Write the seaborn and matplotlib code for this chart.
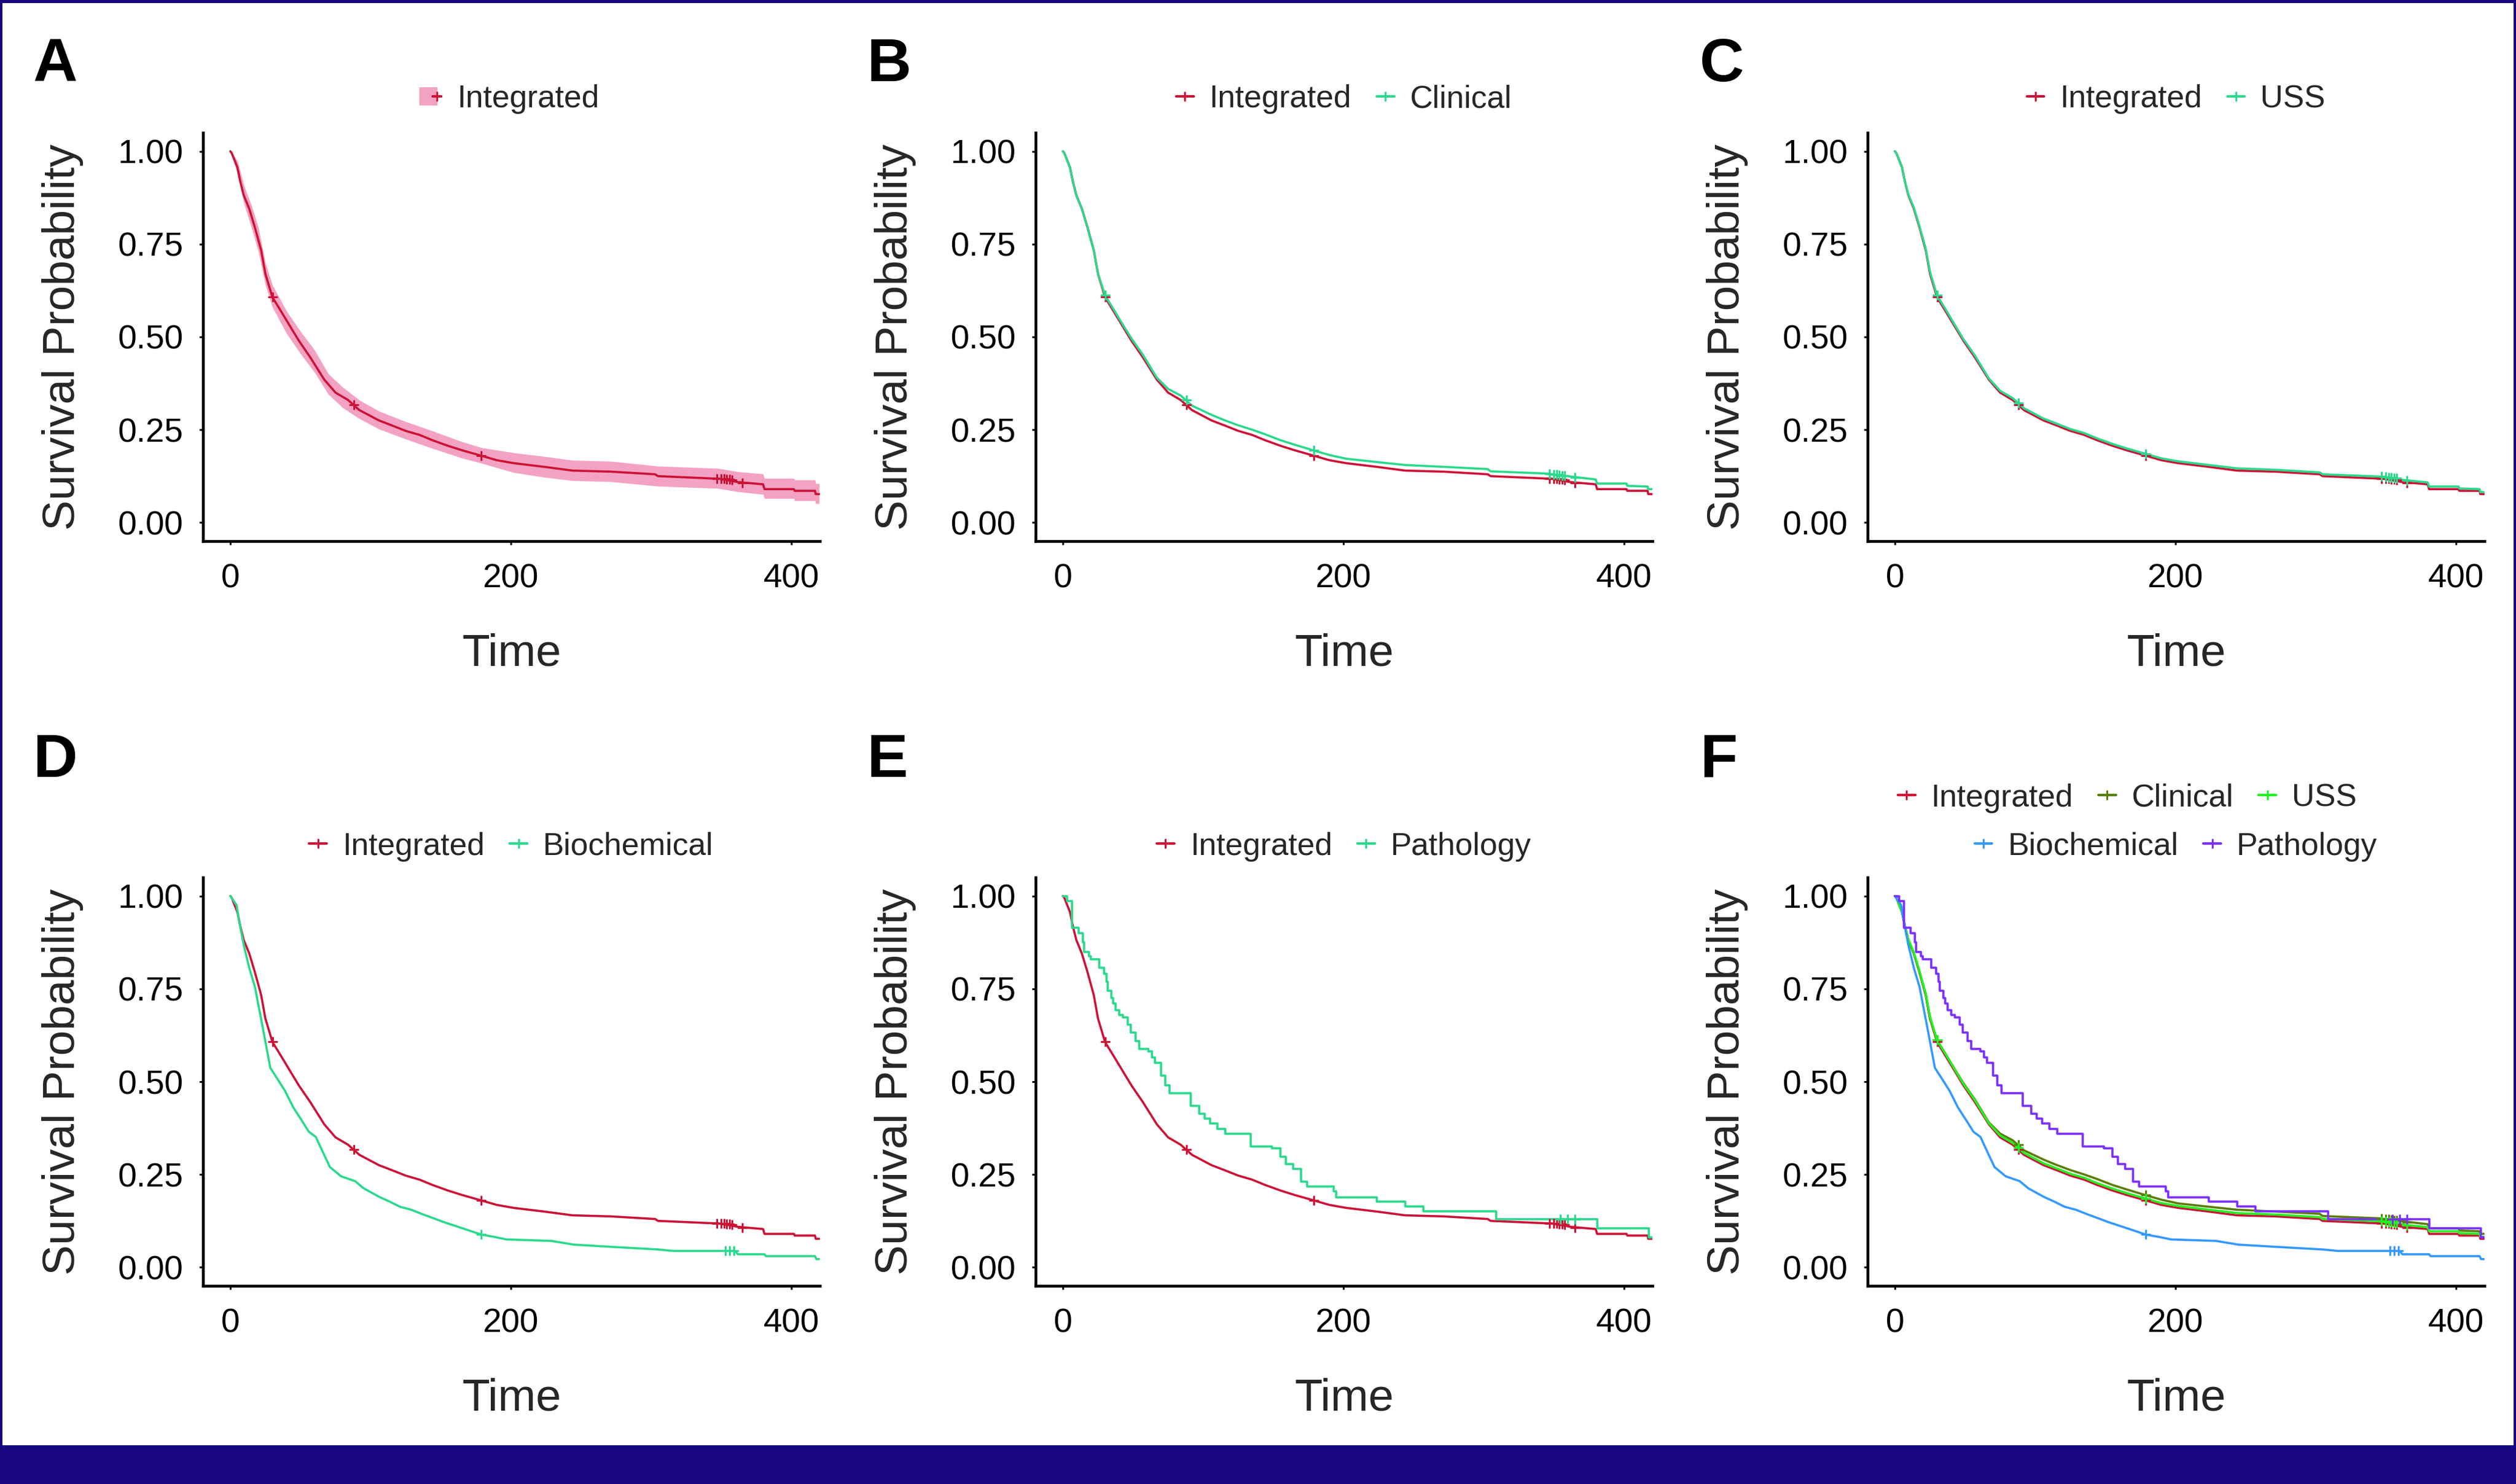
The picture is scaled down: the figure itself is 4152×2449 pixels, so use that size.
import pandas as pd
import matplotlib.pyplot as plt
import seaborn as sns
from matplotlib.lines import Line2D
from matplotlib.patches import Rectangle
from matplotlib.legend_handler import HandlerTuple

# survival curves (time, survival probability)
integrated_t = [0, 1, 5, 7, 9.5, 13.5, 17.5, 22, 25, 30, 36, 44, 49, 57, 67, 75, 84, 92, 106, 115, 125, 135,
                144, 155, 165, 179, 190, 202, 224, 244, 272, 303, 305, 345, 348, 362, 380, 381, 402, 402.5,
                417, 417.5, 420]
integrated_s = [1.0, 0.995, 0.957, 0.92, 0.882, 0.845, 0.795, 0.733, 0.67, 0.607, 0.57, 0.52, 0.489, 0.445,
                0.385, 0.35, 0.33, 0.303, 0.275, 0.262, 0.247, 0.236, 0.222, 0.207, 0.195, 0.18, 0.168, 0.16,
                0.15, 0.14, 0.137, 0.13, 0.125, 0.1185, 0.1185, 0.109, 0.103, 0.09, 0.09, 0.0855, 0.0855,
                0.0767, 0.0767]

# 95% CI band of the integrated model (panel A)
ci_t = [0, 5, 10, 15, 20, 25, 30, 40, 50, 60, 70, 80, 92, 106, 125, 144, 165, 179, 202, 224, 244, 272, 305,
        348, 362, 380, 381, 402, 402.5, 417, 417.5, 420]
ci_lower = [1.0, 0.94, 0.855, 0.795, 0.73, 0.64, 0.58, 0.51, 0.455, 0.405, 0.345, 0.31, 0.28, 0.252, 0.225,
            0.2, 0.174, 0.16, 0.135, 0.122, 0.113, 0.11, 0.098, 0.092, 0.083, 0.076, 0.065, 0.065, 0.059,
            0.059, 0.051, 0.051]
ci_upper = [1.0, 0.975, 0.905, 0.855, 0.795, 0.70, 0.64, 0.57, 0.515, 0.465, 0.40, 0.365, 0.33, 0.3, 0.272,
            0.247, 0.218, 0.202, 0.188, 0.178, 0.168, 0.165, 0.152, 0.146, 0.137, 0.131, 0.119, 0.119, 0.115,
            0.115, 0.105, 0.105]

clinical_t = [0, 1, 5, 7, 9.5, 13.5, 17.5, 22, 25, 30, 36, 44, 49, 57, 67, 75, 84, 92, 106, 115, 125, 135,
              144, 155, 165, 179, 190, 202, 224, 244, 272, 303, 305, 345, 362, 380, 381, 402, 402.5, 417,
              417.5, 420]
clinical_s = [1.0, 0.995, 0.957, 0.92, 0.882, 0.845, 0.795, 0.733, 0.67, 0.612, 0.575, 0.525, 0.495, 0.452,
              0.39, 0.36, 0.342, 0.315, 0.29, 0.276, 0.262, 0.25, 0.238, 0.222, 0.21, 0.194, 0.182, 0.172,
              0.163, 0.155, 0.15, 0.144, 0.138, 0.132, 0.124, 0.116, 0.105, 0.105, 0.099, 0.097, 0.09, 0.09]

uss_t = [0, 1, 5, 7, 9.5, 13.5, 17.5, 22, 25, 30, 36, 44, 49, 57, 67, 75, 84, 92, 106, 115, 125, 135,
         144, 155, 165, 179, 190, 202, 224, 244, 272, 303, 305, 345, 362, 380, 381, 402, 402.5, 417, 417.5, 420]
uss_s = [1.0, 0.995, 0.957, 0.92, 0.884, 0.848, 0.798, 0.737, 0.675, 0.612, 0.575, 0.524, 0.493, 0.45,
         0.388, 0.355, 0.335, 0.308, 0.28, 0.267, 0.252, 0.241, 0.227, 0.212, 0.2, 0.185, 0.173, 0.165,
         0.155, 0.146, 0.142, 0.135, 0.13, 0.124, 0.115, 0.108, 0.097, 0.097, 0.092, 0.09, 0.082, 0.082]

biochemical_t = [0, 4.5, 6, 9.5, 13.5, 17.5, 21, 24.5, 28.5, 34, 39, 45, 51, 56, 61, 66, 71, 79, 89, 95,
                 106, 113, 121, 129, 137, 145, 152, 160, 168, 179, 188, 197, 229, 245, 272, 305, 316, 360,
                 362, 381, 382, 417, 418, 420]
biochemical_s = [1.0, 0.975, 0.938, 0.869, 0.806, 0.756, 0.687, 0.618, 0.537, 0.505, 0.475, 0.43, 0.395,
                 0.365, 0.351, 0.31, 0.27, 0.245, 0.232, 0.213, 0.19, 0.178, 0.163, 0.155, 0.143, 0.132,
                 0.122, 0.112, 0.102, 0.088, 0.082, 0.075, 0.071, 0.061, 0.055, 0.048, 0.044, 0.044, 0.035,
                 0.035, 0.03, 0.03, 0.022, 0.022]

# pathology model has few events -> plain KM steps
pathology_t = [0, 3, 6.3, 11, 14.4, 15, 18.7, 20, 26, 29.4, 31, 32, 34.4, 36, 37.7, 40, 42.7, 46, 48.4,
               51.7, 54.3, 60.8, 63.3, 65.8, 70, 73, 76, 91, 97, 101, 105, 110, 116, 134, 149, 155, 159,
               164, 170, 174, 193, 195, 224, 244, 257, 309, 381, 418, 420]
pathology_s = [1.0, 0.986, 0.914, 0.9, 0.876, 0.85, 0.838, 0.83, 0.807, 0.79, 0.77, 0.744, 0.725, 0.71,
               0.693, 0.68, 0.673, 0.654, 0.632, 0.61, 0.588, 0.582, 0.566, 0.55, 0.516, 0.49, 0.469, 0.434,
               0.413, 0.4, 0.387, 0.373, 0.36, 0.326, 0.32, 0.298, 0.278, 0.265, 0.231, 0.218, 0.204, 0.188,
               0.177, 0.164, 0.15, 0.13, 0.105, 0.08, 0.08]

# censoring marks
integrated_cens_t = [30, 88, 179, 347, 350, 352, 354, 356, 358, 365]
integrated_cens_s = [0.607, 0.318, 0.18, 0.1185, 0.1185, 0.118, 0.117, 0.116, 0.115, 0.107]
clinical_cens_t = [30, 88, 179, 347, 350, 352, 354, 356, 358, 365]
clinical_cens_s = [0.612, 0.33, 0.194, 0.131, 0.13, 0.129, 0.128, 0.127, 0.126, 0.121]
uss_cens_t = [30, 88, 179, 347, 350, 352, 354, 356, 358, 365]
uss_cens_s = [0.612, 0.322, 0.185, 0.124, 0.123, 0.122, 0.121, 0.12, 0.119, 0.113]
biochemical_cens_t = [179, 353, 356, 359]
biochemical_cens_s = [0.088, 0.044, 0.044, 0.044]
pathology_cens_t = [355, 360, 365]
pathology_cens_s = [0.13, 0.13, 0.13]

models = {
    'Integrated': (integrated_t, integrated_s, integrated_cens_t, integrated_cens_s, None),
    'Clinical': (clinical_t, clinical_s, clinical_cens_t, clinical_cens_s, None),
    'USS': (uss_t, uss_s, uss_cens_t, uss_cens_s, None),
    'Biochemical': (biochemical_t, biochemical_s, biochemical_cens_t, biochemical_cens_s, None),
    'Pathology': (pathology_t, pathology_s, pathology_cens_t, pathology_cens_s, 'steps-post'),
}

RED = '#CC1236'
MINT = '#2BD98C'
PINK = '#F4A2C3'
NAVY = '#17067F'
f_colors = {'Integrated': RED, 'Clinical': '#5A7D00', 'USS': '#22F022',
            'Biochemical': '#3399FF', 'Pathology': '#7B2FFF'}

panels = [
    ('A', ['Integrated'], {'Integrated': RED}),
    ('B', ['Integrated', 'Clinical'], {'Integrated': RED, 'Clinical': MINT}),
    ('C', ['Integrated', 'USS'], {'Integrated': RED, 'USS': MINT}),
    ('D', ['Integrated', 'Biochemical'], {'Integrated': RED, 'Biochemical': MINT}),
    ('E', ['Integrated', 'Pathology'], {'Integrated': RED, 'Pathology': MINT}),
    ('F', ['Integrated', 'Clinical', 'USS', 'Biochemical', 'Pathology'], f_colors),
]

sns.set_theme(style='white')
plt.rcParams['font.family'] = ['Liberation Sans', 'DejaVu Sans']

W, H = 4152, 2449
fig = plt.figure(figsize=(W / 100, H / 100), dpi=100)
fig.patch.set_facecolor('white')

col_x = [335, 1709, 3082]
row_top = [219, 1448]
ax_w, ax_h = 1018, 674
letter_x = [54, 1430, 2805]
letter_base = [134, 1282]

LW = 2.6
for i, (letter, names, cols) in enumerate(panels):
    r, c = divmod(i, 3)
    ax = fig.add_axes([col_x[c] / W, 1 - (row_top[r] + ax_h) / H, ax_w / W, ax_h / H])

    if letter == 'A':
        ax.fill_between(ci_t, ci_lower, ci_upper, color=PINK, lw=0, zorder=1)

    for name in names:
        t, s, ct, cs, ds = models[name]
        df = pd.DataFrame({'time': t, 'surv': s})
        sns.lineplot(data=df, x='time', y='surv', ax=ax, color=cols[name], lw=LW,
                     estimator=None, sort=False, drawstyle=ds or 'default', zorder=3)
        ax.plot(ct, cs, ls='none', marker='+', ms=11, mew=2.2, color=cols[name], zorder=4)

    ax.set_xlim(-19.5, 420.5)
    ax.set_ylim(-0.05, 1.05)
    ax.set_xticks([0, 200, 400])
    ax.set_yticks([0, 0.25, 0.5, 0.75, 1.0])
    ax.set_yticklabels(['0.00', '0.25', '0.50', '0.75', '1.00'])
    ax.tick_params(axis='both', length=4.3, width=2.2, color='black', labelcolor='black', labelsize=40,
                   bottom=True, left=True)
    ax.tick_params(axis='x', pad=22)
    ax.tick_params(axis='y', pad=19)
    for side in ['top', 'right']:
        ax.spines[side].set_visible(False)
    for side in ['left', 'bottom']:
        ax.spines[side].set_linewidth(3.3)
        ax.spines[side].set_color('black')

    ax.set_xlabel('Time', fontsize=54)
    ax.set_ylabel('Survival Probability', fontsize=54)
    ax.xaxis.set_label_coords(0.5, -0.225)
    ax.yaxis.set_label_coords(-0.1935, 0.5)

    # legends
    def handle(name):
        return Line2D([], [], color=cols[name], lw=3, marker='+', ms=11, mew=2.2)

    leg_kw = dict(loc='center', frameon=False, fontsize=37.5, handlelength=0.55, handletextpad=0.5,
                  columnspacing=0.8, borderpad=0, borderaxespad=0)
    y_top = (893 - 164) / ax_h if r == 0 else (2121 - 1396) / ax_h
    if letter == 'A':
        box = Line2D([], [], ls='none', marker='s', ms=22, mew=0, color=PINK)
        h = (box, handle('Integrated'))
        ax.legend([h], ['Integrated'], bbox_to_anchor=(0.5, y_top), ncol=1,
                  handler_map={tuple: HandlerTuple(ndivide=None)}, **leg_kw)
    elif letter == 'F':
        leg1 = ax.legend([handle(n) for n in names[:3]], names[:3],
                         bbox_to_anchor=(0.421, (2121 - 1316) / ax_h), ncol=3, **leg_kw)
        ax.add_artist(leg1)
        ax.legend([handle(n) for n in names[3:]], names[3:], bbox_to_anchor=(0.5, y_top), ncol=2, **leg_kw)
    else:
        ax.legend([handle(n) for n in names], names, bbox_to_anchor=(0.5, y_top), ncol=2, **leg_kw)

    fig.text(letter_x[c] / W, 1 - letter_base[r] / H, letter, fontsize=73, fontweight='bold',
             ha='left', va='baseline', color='black')

# journal frame
for (x0, y0, w, h) in [(0, 0, 4.5, H), (0, 0, W, 4.5), (W - 4.5, 0, 4.5, H), (0, 2385, W, H - 2385)]:
    fig.add_artist(Rectangle((x0 / W, 1 - (y0 + h) / H), w / W, h / H, transform=fig.transFigure,
                             facecolor=NAVY, edgecolor='none', zorder=10))

fig.savefig('out.png', dpi=100)
